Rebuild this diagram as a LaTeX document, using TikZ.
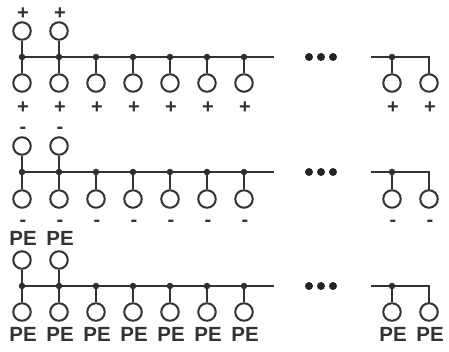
\documentclass[tikz,border=0pt]{standalone}
\usepackage{fontspec}
\setmainfont{Liberation Sans}
\definecolor{ink}{gray}{0.2}
\tikzset{
  term/.style={circle,draw=ink,line width=2pt,fill=white,minimum size=17.5pt,inner sep=0pt},
  junct/.style={circle,fill=ink!90!black,minimum size=6.5pt,inner sep=0pt},
  wire/.style={draw=ink,line width=2.1pt},
  ell/.style={circle,fill=ink!70!black,minimum size=8pt,inner sep=0pt},
  sign/.style={anchor=base,text=ink,inner sep=0pt,font=\fontsize{20}{20}\selectfont\bfseries},
  pe/.style={anchor=base,text=ink,inner sep=0pt,font=\fontsize{20.5}{20.5}\selectfont\bfseries}
}
\begin{document}
\begin{tikzpicture}[x=1pt,y=-1pt]
\useasboundingbox (0,0) rectangle (449,351);
\foreach \r/\bus/\ct/\cb/\lt/\lb/\txt/\sty in {
  a/57/31/83/19/113/+/sign,
  b/172/146/199/133/226.5/-/sign,
  c/286/260/312/245/341/PE/pe}{
  % left bus and right bus ends
  \coordinate (\r L) at (20,\bus);
  \coordinate (\r R) at (274,\bus);
  \coordinate (\r S) at (371,\bus);
  \coordinate (\r E) at (429,\bus);
  \draw[wire] (\r L) -- (\r R);
  % terminals along the left bus
  \foreach \i/\x in {1/22,2/59,3/96,4/133,5/170,6/207,7/244}{
    \node[junct] (\r j\i) at (\x,\bus) {};
    \node[term] (\r b\i) at (\x,\cb) {};
    \draw[wire] (\r j\i) -- (\r b\i);
    \node[\sty] (\r l\i) at (\x+1,\lb) {\txt};
  }
  % the two upper terminals
  \foreach \i/\x in {1/22,2/59}{
    \node[term] (\r t\i) at (\x,\ct) {};
    \draw[wire] (\r j\i) -- (\r t\i);
    \node[\sty] (\r u\i) at (\x+1,\lt) {\txt};
  }
  % ellipsis
  \foreach \i/\x in {1/309,2/321,3/333}{
    \node[ell] (\r d\i) at (\x,\bus) {};
  }
  % right group
  \draw[wire,line join=miter] (\r S) -- (\r E) -- (429,\cb-8);
  \node[junct] (\r j8) at (392,\bus) {};
  \node[term] (\r b8) at (392,\cb) {};
  \node[term] (\r b9) at (429,\cb) {};
  \node[\sty] (\r l8) at (393,\lb) {\txt};
  \node[\sty] (\r l9) at (430,\lb) {\txt};
  \draw[wire] (\r j8) -- (\r b8);
}
\end{tikzpicture}
\end{document}
